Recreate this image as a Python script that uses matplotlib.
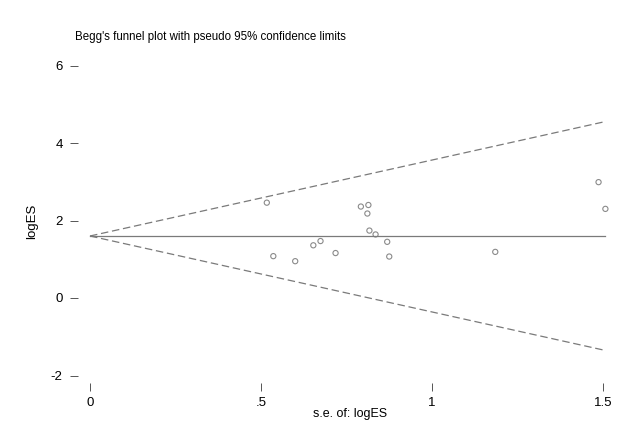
import matplotlib
matplotlib.use("Agg")
import matplotlib.pyplot as plt
import numpy as np

plt.rcParams['font.family'] = ['Liberation Sans', 'DejaVu Sans']
plt.rcParams['axes.unicode_minus'] = False

# study standard errors and log effect sizes
se_logES = [0.517, 0.536, 0.600, 0.653, 0.674, 0.718, 0.792, 0.811, 0.814,
            0.817, 0.835, 0.869, 0.875, 1.185, 1.487, 1.507]
logES = [2.46, 1.08, 0.95, 1.36, 1.47, 1.16, 2.36, 2.18, 2.40,
         1.74, 1.64, 1.45, 1.07, 1.19, 2.99, 2.30]
pooled = 1.60
x_ticks = [0, 0.5, 1, 1.5]
x_ticklabels = ['0', '.5', '1', '1.5']
y_ticks = [-2, 0, 2, 4, 6]

fig = plt.figure(figsize=(6.41, 4.21), dpi=100)
ax = fig.add_axes([78/641, 1 - 383/421, 545/641, 323/421])

se_max = max(se_logES)
xs = np.array([0, se_max])
ax.plot(xs, [pooled, pooled], color='#7a7a7a', lw=0.9)
ax.plot(xs, pooled + 1.96 * xs, color='#7a7a7a', lw=0.9, ls=(0, (6, 3)))
ax.plot(xs, pooled - 1.96 * xs, color='#7a7a7a', lw=0.9, ls=(0, (6, 3)))
ax.scatter(se_logES, logES, s=14, facecolors='none', edgecolors='#8a8a8a', linewidths=0.8)

ax.set_xlim((78 - 90) / 342, (623 - 90) / 342)
ax.set_ylim((298 - 383) / 38.75, (298 - 60) / 38.75)
for s in ax.spines.values():
    s.set_visible(False)
ax.set_xticks(x_ticks)
ax.set_xticklabels(x_ticklabels)
ax.set_yticks(y_ticks)
ax.tick_params(axis='x', direction='out', length=6, width=0.7, color='#555555', pad=4, labelsize=9.5)
ax.tick_params(axis='y', direction='out', length=6, width=0.7, color='#555555', pad=5, labelsize=9.5)
ax.set_xlabel('s.e. of: logES', fontsize=9, labelpad=-1)
ax.set_ylabel('logES', fontsize=9.5, labelpad=9)

fig.text(75/641, 1 - 37/421, "Begg's funnel plot with pseudo 95% confidence limits",
         fontsize=8.3, ha='left', va='center')

fig.savefig('out.png', dpi=100)
